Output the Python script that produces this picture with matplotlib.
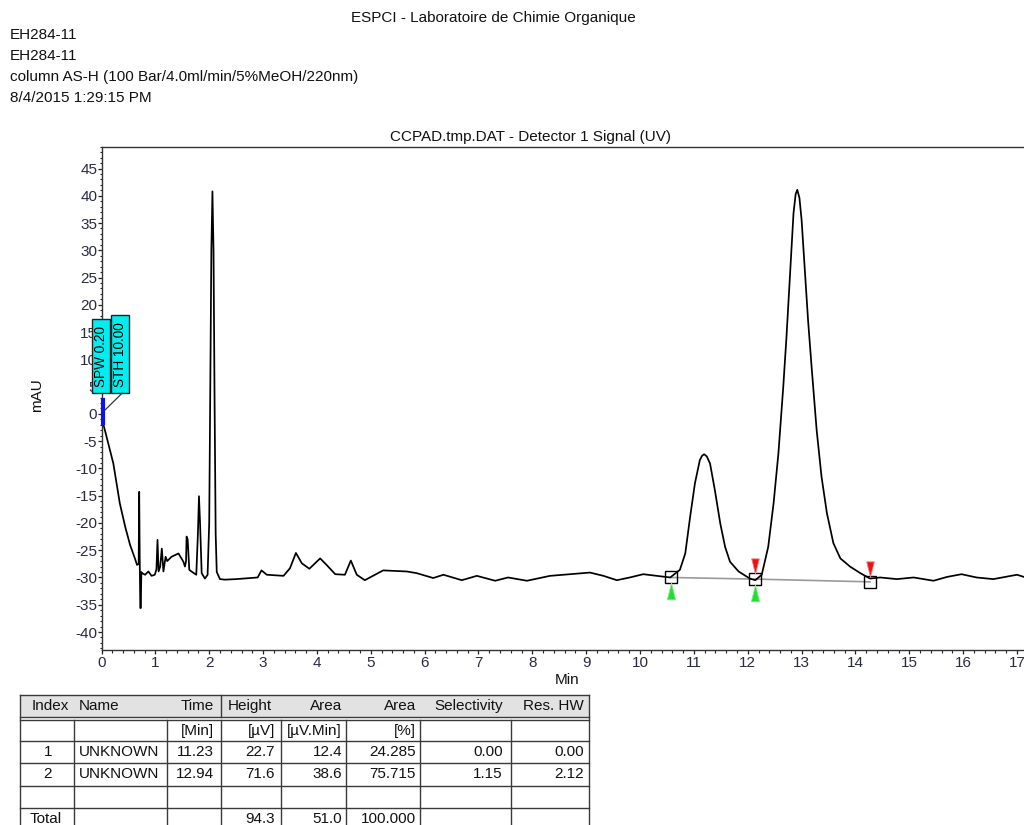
import matplotlib
matplotlib.use("Agg")
import matplotlib.pyplot as plt
from matplotlib.patches import Rectangle
from matplotlib.lines import Line2D
from matplotlib.ticker import MultipleLocator
import matplotlib.transforms as mtransforms

plt.rcParams['font.family'] = ['Liberation Sans', 'DejaVu Sans']
plt.rcParams['axes.unicode_minus'] = False

# ---------------- data ----------------
header_center = "ESPCI - Laboratoire de Chimie Organique"
header_lines = ["EH284-11", "EH284-11",
                "column AS-H (100 Bar/4.0ml/min/5%MeOH/220nm)",
                "8/4/2015 1:29:15 PM"]
chart_title = "CCPAD.tmp.DAT - Detector 1 Signal (UV)"

time_min = [0.00, 0.03, 0.11, 0.22, 0.28, 0.34, 0.44, 0.53, 0.62, 0.66,
            0.69, 0.70, 0.71, 0.72, 0.73, 0.74, 0.75, 0.81, 0.87, 0.93,
            0.99, 1.02, 1.04, 1.06, 1.09, 1.12, 1.15, 1.19, 1.22, 1.30,
            1.43, 1.52, 1.55, 1.57, 1.58, 1.60, 1.63, 1.70, 1.76, 1.79,
            1.81, 1.83, 1.86, 1.92, 1.97, 2.00, 2.02, 2.04, 2.06, 2.08,
            2.10, 2.12, 2.14, 2.20, 2.29, 2.50, 2.76, 2.90, 2.97, 3.07,
            3.38, 3.50, 3.61, 3.72, 3.86, 4.06, 4.18, 4.34, 4.52, 4.63,
            4.74, 4.89, 5.23, 5.67, 5.85, 6.16, 6.35, 6.69, 6.97, 7.31,
            7.55, 7.90, 8.33, 8.70, 9.07, 9.32, 9.57, 9.81, 10.06, 10.31,
            10.56, 10.74, 10.84, 10.93, 11.02, 11.11, 11.15, 11.19, 11.24, 11.30,
            11.39, 11.49, 11.58, 11.67, 11.83, 12.04, 12.14, 12.26, 12.38, 12.48,
            12.57, 12.66, 12.72, 12.79, 12.85, 12.89, 12.92, 12.96, 13.00, 13.06,
            13.12, 13.19, 13.28, 13.37, 13.47, 13.59, 13.72, 13.90, 14.09, 14.27,
            14.46, 14.77, 15.08, 15.45, 15.70, 15.97, 16.25, 16.56, 17.00, 17.13]
signal_mau = [-0.5, -1.7, -4.8, -9.1, -12.7, -16.4, -20.7, -24.0, -26.5, -27.7,
              -27.5, -14.3, -27.0, -35.6, -35.6, -29.0, -29.2, -29.5, -28.9, -29.7,
              -29.5, -28.5, -23.1, -28.9, -28.0, -24.7, -28.9, -26.2, -27.0, -26.2,
              -25.6, -27.1, -28.0, -27.0, -22.5, -23.0, -28.6, -29.1, -29.5, -22.0,
              -15.1, -20.0, -29.2, -30.2, -29.5, -20.0, 5.0, 30.0, 40.8, 30.0,
              2.0, -22.0, -29.0, -30.3, -30.4, -30.3, -30.1, -30.0, -28.7, -29.5,
              -29.7, -28.3, -25.5, -27.4, -28.4, -26.5, -27.7, -29.4, -29.5, -26.9,
              -29.5, -30.5, -28.7, -28.9, -29.2, -30.1, -29.5, -30.5, -29.7, -30.6,
              -30.0, -30.6, -29.7, -29.4, -29.1, -29.7, -30.5, -30.0, -29.4, -29.7,
              -30.0, -28.6, -25.6, -18.9, -12.7, -8.5, -7.7, -7.4, -7.8, -9.1,
              -14.0, -20.1, -24.4, -27.1, -28.9, -30.2, -30.5, -29.5, -24.4, -16.4,
              -7.2, 5.0, 14.2, 26.4, 36.8, 40.3, 41.1, 39.6, 35.6, 26.4,
              17.2, 8.1, -3.0, -11.5, -18.2, -23.7, -26.5, -28.0, -29.2, -30.2,
              -30.0, -30.3, -30.0, -30.6, -29.9, -29.4, -30.0, -30.3, -29.5, -29.9]

# integration baseline points (start / valley / end)
base_time = [10.57, 12.14, 14.27]
base_level = [-30.0, -30.3, -30.8]
start_marks = [10.57, 12.14]     # green
end_marks = [12.14, 14.27]       # red

event_time = [0.02]
event_span = [2.5, -1.7]
event_labels = ["SPW 0.20", "STH 10.00"]

x_ticks = list(range(0, 18))
y_ticks = list(range(-40, 50, 5))

tbl_header = ["Index", "Name", "Time", "Height", "Area", "Area", "Selectivity", "Res. HW"]
tbl_units = ["", "", "[Min]", "[µV]", "[µV.Min]", "[%]", "", ""]
tbl_index = ["1", "2"]
tbl_name = ["UNKNOWN", "UNKNOWN"]
tbl_time = ["11.23", "12.94"]
tbl_height = ["22.7", "71.6"]
tbl_area = ["12.4", "38.6"]
tbl_area_pct = ["24.285", "75.715"]
tbl_select = ["0.00", "1.15"]
tbl_res = ["0.00", "2.12"]
tbl_total = ["Total", "", "", "94.3", "51.0", "100.000", "", ""]

# ---------------- figure ----------------
W, H = 1024, 825
fig = plt.figure(figsize=(W / 100, H / 100), dpi=100)


def fx(px):
    return px / W


def fy(py):
    return 1 - py / H


FS = 11
TXT = '#111111'

fig.text(fx(493), fy(18), header_center, ha='center', va='center', fontsize=FS, color=TXT)
for i, s in enumerate(header_lines):
    fig.text(fx(10), fy(35 + 21 * i), s, ha='left', va='center', fontsize=FS, color=TXT)
fig.text(fx(530), fy(137), chart_title, ha='center', va='center', fontsize=FS, color=TXT)

ax = fig.add_axes([fx(101.5), fy(650), 1 - fx(101.5), (650 - 146.7) / H])
ax.plot(time_min, signal_mau, color='black', lw=1.25, zorder=3)

# baseline + markers
ax.plot(base_time, base_level, color='#9a9a9a', lw=1.2, zorder=2)
ax.plot(base_time, base_level, ls='none', marker='s', ms=8.5, mfc='none',
        mec='black', mew=1.0, zorder=4)
tri_up = [(-0.25, -0.5), (0.25, -0.5), (0.0, 0.5), (-0.25, -0.5)]
tri_dn = [(-0.25, 0.5), (0.25, 0.5), (0.0, -0.5), (-0.25, 0.5)]
green_tr = mtransforms.offset_copy(ax.transData, fig=fig, x=0, y=-14, units='dots')
red_tr = mtransforms.offset_copy(ax.transData, fig=fig, x=0, y=13, units='dots')
g_levels = [base_level[base_time.index(t)] for t in start_marks]
r_levels = [base_level[base_time.index(t)] for t in end_marks]
ax.plot(start_marks, g_levels, ls='none', marker=tri_up, ms=12,
        mfc='#22dd33', mec='#88ee88', mew=0.6, transform=green_tr, zorder=5, clip_on=False)
ax.plot(end_marks, r_levels, ls='none', marker=tri_dn, ms=11,
        mfc='#ee1111', mec='#f08080', mew=0.6, transform=red_tr, zorder=5, clip_on=False)

# event marker at start
ax.plot([event_time[0]] * 2, event_span, color='#1010ee', lw=3, zorder=4, clip_on=False)

ax.xaxis.set_minor_locator(MultipleLocator(0.2))
ax.yaxis.set_minor_locator(MultipleLocator(1))
ax.set_xticks(x_ticks)
ax.set_yticks(y_ticks)
ax.set_xlim(0, 17.13)
ax.set_ylim(-43.3, 49.0)
tick_col = '#2a2a40'
ax.tick_params(axis='both', which='major', direction='out', length=3, width=0.9,
               labelsize=FS, labelcolor=tick_col, color='#222222')
ax.tick_params(axis='both', which='minor', direction='out', length=1.8, width=0.8,
               color='#222222')
ax.tick_params(axis='y', which='major', pad=0)
ax.tick_params(axis='x', which='major', pad=1.5)
ax.spines['right'].set_visible(False)
for sp in ['top', 'left', 'bottom']:
    ax.spines[sp].set_color('#333333')
    ax.spines[sp].set_linewidth(1.0)

fig.text(fx(37), fy(395), "mAU", rotation=90, ha='center', va='center', fontsize=FS, color=TXT)
fig.text(fx(567), fy(680), "Min", ha='center', va='center', fontsize=FS, color=TXT)

# event label boxes
boxes = [(91.7, 319, 110.0, 393.3), (110.7, 315, 129.3, 393.3)]
for (x0, y0, x1, y1), lab in zip(boxes, event_labels):
    r = Rectangle((fx(x0), fy(y1)), fx(x1) - fx(x0), fy(y0) - fy(y1),
                  transform=fig.transFigure, facecolor='#00eef0', edgecolor='#222222',
                  lw=1.0, zorder=10)
    fig.add_artist(r)
    fig.text(fx((x0 + x1) / 2), fy((y0 + y1) / 2), lab, rotation=90, ha='center',
             va='center', fontsize=9.8, color='black', zorder=11)
fig.add_artist(Line2D([fx(122), fx(103.3)], [fy(393.3), fy(411.7)],
                      transform=fig.transFigure, color='#333333', lw=0.9, zorder=10))

# ---------------- table ----------------
LC = '#3a3a3a'
tl, tr = 20, 589
row_lines = [695, 717, 720, 741, 763, 786, 808, 830]
fig.add_artist(Rectangle((fx(tl), fy(717)), fx(tr) - fx(tl), fy(695) - fy(717),
                         transform=fig.transFigure, facecolor='#e2e2e2', edgecolor='none'))
for yy in row_lines:
    fig.add_artist(Line2D([fx(tl), fx(tr)], [fy(yy), fy(yy)], transform=fig.transFigure,
                          color=LC, lw=1.0))
for xx in [tl, tr]:
    fig.add_artist(Line2D([fx(xx), fx(xx)], [fy(695), fy(830)], transform=fig.transFigure,
                          color=LC, lw=1.0))
fig.add_artist(Line2D([fx(221), fx(221)], [fy(695), fy(717)], transform=fig.transFigure,
                      color=LC, lw=1.0))
for xx in [73.5, 166.5, 221, 281, 346, 420, 511]:
    fig.add_artist(Line2D([fx(xx), fx(xx)], [fy(720), fy(830)], transform=fig.transFigure,
                          color=LC, lw=1.0))

# column text anchors: (x, ha)
col_anchor = [(48, 'center'), (79, 'left'), (214, 'right'), (275, 'right'),
              (342, 'right'), (416, 'right'), (503, 'right'), (584, 'right')]
hdr_anchor = [(50, 'center'), (79, 'left'), (214, 'right'), (228, 'left'),
              (342, 'right'), (416, 'right'), (503, 'right'), (584, 'right')]


def put_row(values, yc, anchors):
    for v, (xx, ha) in zip(values, anchors):
        if v:
            fig.text(fx(xx), fy(yc), v, ha=ha, va='center', fontsize=FS, color=TXT)


put_row(tbl_header, 706, hdr_anchor)
put_row(tbl_units, 730.5, col_anchor)
for i in range(len(tbl_index)):
    put_row([tbl_index[i], tbl_name[i], tbl_time[i], tbl_height[i], tbl_area[i],
             tbl_area_pct[i], tbl_select[i], tbl_res[i]], 752 + 22.5 * i, col_anchor)
tot_anchor = [(30, 'left')] + col_anchor[1:]
put_row(tbl_total, 819, tot_anchor)

fig.savefig("out.png", dpi=100)
